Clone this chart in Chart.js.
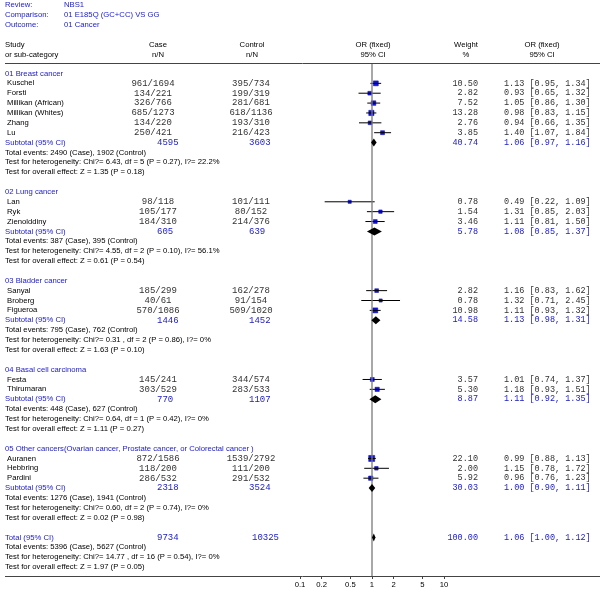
<!DOCTYPE html>
<html>
<head>
<meta charset="utf-8">
<script src="https://cdn.jsdelivr.net/npm/chart.js@4.4.0/dist/chart.umd.min.js"></script>
<style>
  html, body { margin: 0; padding: 0; background: #fff; }
  #wrap { width: 600px; height: 594px; position: relative; }
</style>
</head>
<body>
<div id="wrap"><canvas id="forest" width="600" height="594"></canvas></div>
<script>
// review header
const reviewLabels = ['Review:', 'Comparison:', 'Outcome:'];
const reviewValues = ['NBS1', '01 E185Q (GC+CC) VS GG', '01 Cancer'];

// subgroups
const groupNames = [
    '01 Breast cancer',
    '02 Lung cancer',
    '03 Bladder cancer',
    '04 Basal cell carcinoma',
    '05 Other cancers(Ovarian cancer, Prostate cancer, or Colorectal cancer )'
];

// studies
const studyNames = ['Kuschel', 'Forsti', 'Millikan (African)', 'Millikan (Whites)', 'Zhang', 'Lu',
    'Lan', 'Ryk', 'Zienolddiny',
    'Sanyal', 'Broberg', 'Figueroa',
    'Festa', 'Thirumaran',
    'Auranen', 'Hebbring', 'Pardini'];
const studyGroup = [0, 0, 0, 0, 0, 0, 1, 1, 1, 2, 2, 2, 3, 3, 4, 4, 4];
const caseNN = ['961/1694', '134/221', '326/766', '685/1273', '134/220', '250/421',
    '98/118', '105/177', '184/310',
    '185/299', '40/61', '570/1086',
    '145/241', '303/529',
    '872/1586', '118/200', '286/532'];
const controlNN = ['395/734', '199/319', '281/681', '618/1136', '193/310', '216/423',
    '101/111', '80/152', '214/376',
    '162/278', '91/154', '509/1020',
    '344/574', '283/533',
    '1539/2792', '111/200', '291/532'];
const weights = [10.50, 2.82, 7.52, 13.28, 2.76, 3.85, 0.78, 1.54, 3.46, 2.82, 0.78, 10.98, 3.57, 5.30, 22.10, 2.00, 5.92];
const orEst  = [1.13, 0.93, 1.05, 0.98, 0.94, 1.40, 0.49, 1.31, 1.11, 1.16, 1.32, 1.11, 1.01, 1.18, 0.99, 1.15, 0.96];
const ciLow  = [0.95, 0.65, 0.86, 0.83, 0.66, 1.07, 0.22, 0.85, 0.81, 0.83, 0.71, 0.93, 0.74, 0.93, 0.88, 0.78, 0.76];
const ciHigh = [1.34, 1.32, 1.30, 1.15, 1.35, 1.84, 1.09, 2.03, 1.50, 1.62, 2.45, 1.32, 1.37, 1.51, 1.13, 1.72, 1.23];

// subtotals
const subCase    = [4595, 605, 1446, 770, 2318];
const subControl = [3603, 639, 1452, 1107, 3524];
const subWeight  = [40.74, 5.78, 14.58, 8.87, 30.03];
const subOR      = [1.06, 1.08, 1.13, 1.11, 1.00];
const subLow     = [0.97, 0.85, 0.98, 0.92, 0.90];
const subHigh    = [1.16, 1.37, 1.31, 1.35, 1.11];
const eventsCase    = [2490, 387, 795, 448, 1276];
const eventsControl = [1902, 395, 762, 627, 1941];
const hetText = [
    'Chi?= 6.43, df = 5 (P = 0.27), I?= 22.2%',
    'Chi?= 4.55, df = 2 (P = 0.10), I?= 56.1%',
    'Chi?= 0.31 , df = 2 (P = 0.86), I?= 0%',
    'Chi?= 0.64, df = 1 (P = 0.42), I?= 0%',
    'Chi?= 0.60, df = 2 (P = 0.74), I?= 0%'
];
const effectText = ['Z = 1.35 (P = 0.18)', 'Z = 0.61 (P = 0.54)', 'Z = 1.63 (P = 0.10)', 'Z = 1.11 (P = 0.27)', 'Z = 0.02 (P = 0.98)'];

// overall
const totalCase = 9734, totalControl = 10325, totalWeight = 100.00;
const totalOR = 1.06, totalLow = 1.00, totalHigh = 1.12;
const totalEvents = [5396, 5627];
const totalHet = 'Chi?= 14.77 , df = 16 (P = 0.54), I?= 0%';
const totalEffect = 'Z = 1.97 (P = 0.05)';

const xTicks = [0.1, 0.2, 0.5, 1, 2, 5, 10];

// ---- row layout ----
const BLUE = '#1a1ac8';
const GREY = '#333';
const SANS = '7.7px "Liberation Sans", Arial, sans-serif';
const MONO = '9px "Liberation Mono", "Courier New", monospace';
const MONO_R = '8.5px "Liberation Mono", "Courier New", monospace';
const caseCenter = [153, 158, 158, 158, 158];

const studyRow = [];
const subRow = [];
const notes = [];
let r = 0;
groupNames.forEach((g, gi) => {
    notes.push({ row: r++, text: g, color: BLUE, x: 5 });
    studyNames.forEach((n, i) => {
        if (studyGroup[i] === gi) studyRow[i] = r++;
    });
    subRow[gi] = r++;
    notes.push({ row: r++, text: 'Total events: ' + eventsCase[gi] + ' (Case), ' + eventsControl[gi] + ' (Control)' });
    notes.push({ row: r++, text: 'Test for heterogeneity: ' + hetText[gi] });
    notes.push({ row: r++, text: 'Test for overall effect: ' + effectText[gi] });
    r++;
});
const totalRow = r++;
notes.push({ row: r++, text: 'Total events: ' + totalEvents[0] + ' (Case), ' + totalEvents[1] + ' (Control)' });
notes.push({ row: r++, text: 'Test for heterogeneity: ' + totalHet });
notes.push({ row: r++, text: 'Test for overall effect: ' + totalEffect });
const lastRow = r - 1;

const yMin = -0.96, yMax = lastRow + 0.91;

// CI segments with gaps between them
const ciData = [];
studyNames.forEach((n, i) => {
    ciData.push({ x: ciLow[i], y: studyRow[i] }, { x: ciHigh[i], y: studyRow[i] }, { x: ciHigh[i], y: null });
});
const pointData = studyNames.map((n, i) => ({ x: orEst[i], y: studyRow[i] }));
const pointSize = weights.map(w => (2.5 + 0.75 * Math.sqrt(w)) / Math.SQRT2);

// diamonds for pooled estimates
const diamonds = subOR.map((v, gi) => ({ est: v, lo: subLow[gi], hi: subHigh[gi], row: subRow[gi] }));
diamonds.push({ est: totalOR, lo: totalLow, hi: totalHigh, row: totalRow });

const forestPlugin = {
    id: 'forestText',
    afterDatasetsDraw(chart) {
        const { ctx, scales: { x, y } } = chart;
        ctx.save();
        ctx.fillStyle = '#000';
        diamonds.forEach(d => {
            const yc = y.getPixelForValue(d.row);
            ctx.beginPath();
            ctx.moveTo(x.getPixelForValue(d.lo), yc);
            ctx.lineTo(x.getPixelForValue(d.est), yc - 4);
            ctx.lineTo(x.getPixelForValue(d.hi), yc);
            ctx.lineTo(x.getPixelForValue(d.est), yc + 4);
            ctx.closePath();
            ctx.fill();
        });
        ctx.restore();
    },
    afterDraw(chart) {
        const { ctx, scales: { y }, chartArea } = chart;
        const py = row => y.getPixelForValue(row);
        const txt = (s, xp, yp, font, color, align) => {
            ctx.font = font;
            ctx.fillStyle = color || '#000';
            ctx.textAlign = align || 'left';
            ctx.fillText(s, xp, yp);
        };
        ctx.save();
        ctx.textBaseline = 'middle';

        reviewLabels.forEach((l, i) => {
            txt(l, 5, 5 + i * 10, SANS, BLUE);
            txt(reviewValues[i], 64, 5 + i * 10, SANS, BLUE);
        });

        // column headers
        txt('Study', 5, 45, SANS);
        txt('or sub-category', 5, 55, SANS);
        txt('Case', 158, 45, SANS, '#000', 'center');
        txt('n/N', 158, 55, SANS, '#000', 'center');
        txt('Control', 252, 45, SANS, '#000', 'center');
        txt('n/N', 252, 55, SANS, '#000', 'center');
        txt('OR (fixed)', 373, 45, SANS, '#000', 'center');
        txt('95% CI', 373, 55, SANS, '#000', 'center');
        txt('Weight', 466, 45, SANS, '#000', 'center');
        txt('%', 466, 55, SANS, '#000', 'center');
        txt('OR (fixed)', 542, 45, SANS, '#000', 'center');
        txt('95% CI', 542, 55, SANS, '#000', 'center');

        // rules
        ctx.strokeStyle = '#444';
        ctx.lineWidth = 1;
        ctx.beginPath();
        ctx.moveTo(5, 63.5); ctx.lineTo(600, 63.5);
        ctx.moveTo(5, chartArea.bottom + 0.5); ctx.lineTo(600, chartArea.bottom + 0.5);
        ctx.stroke();

        notes.forEach(n => txt(n.text, n.x || 5, py(n.row), SANS, n.color || '#000'));

        const orStr = (v, lo, hi) => v.toFixed(2) + ' [' + lo.toFixed(2) + ', ' + hi.toFixed(2) + ']';

        studyNames.forEach((n, i) => {
            const yp = py(studyRow[i]);
            txt(n, 7, yp, SANS);
            txt(caseNN[i], caseCenter[studyGroup[i]], yp, MONO, GREY, 'center');
            txt(controlNN[i], 251, yp, MONO, GREY, 'center');
            txt(weights[i].toFixed(2), 478, yp, MONO_R, GREY, 'right');
            txt(orStr(orEst[i], ciLow[i], ciHigh[i]), 504, yp, MONO_R, GREY);
        });

        groupNames.forEach((g, gi) => {
            const yp = py(subRow[gi]);
            txt('Subtotal (95% CI)', 5, yp, SANS, BLUE);
            txt(String(subCase[gi]), 157, yp, MONO, BLUE);
            txt(String(subControl[gi]), 249, yp, MONO, BLUE);
            txt(subWeight[gi].toFixed(2), 478, yp, MONO_R, BLUE, 'right');
            txt(orStr(subOR[gi], subLow[gi], subHigh[gi]), 504, yp, MONO_R, BLUE);
        });

        const yt = py(totalRow);
        txt('Total (95% CI)', 5, yt, SANS, BLUE);
        txt(String(totalCase), 157, yt, MONO, BLUE);
        txt(String(totalControl), 252, yt, MONO, BLUE);
        txt(totalWeight.toFixed(2), 478, yt, MONO_R, BLUE, 'right');
        txt(orStr(totalOR, totalLow, totalHigh), 504, yt, MONO_R, BLUE);

        ctx.restore();
    }
};

new Chart(document.getElementById('forest'), {
    type: 'scatter',
    data: {
        datasets: [
            {
                type: 'line',
                data: [{ x: 1, y: yMin }, { x: 1, y: yMax }],
                borderColor: '#7a7a7a',
                borderWidth: 1.3,
                pointRadius: 0
            },
            {
                type: 'line',
                data: ciData,
                borderColor: '#000',
                borderWidth: 1,
                pointRadius: 0,
                spanGaps: false
            },
            {
                data: pointData,
                pointStyle: 'rect',
                pointRadius: pointSize,
                backgroundColor: '#1414e0',
                borderColor: '#0000a0',
                borderWidth: 0.5
            }
        ]
    },
    options: {
        responsive: false,
        animation: false,
        events: [],
        layout: { padding: { left: 300, right: 156, top: 64, bottom: 0 } },
        plugins: { legend: { display: false }, tooltip: { enabled: false } },
        scales: {
            x: {
                type: 'logarithmic',
                min: 0.1,
                max: 10,
                afterBuildTicks: scale => { scale.ticks = xTicks.map(v => ({ value: v })); },
                afterFit: scale => { scale.height = 18; },
                border: { display: false },
                grid: { drawOnChartArea: false, drawTicks: true, tickLength: 3, color: '#444' },
                ticks: {
                    autoSkip: false,
                    maxRotation: 0,
                    padding: 1,
                    color: '#000',
                    font: { family: '"Liberation Sans", Arial, sans-serif', size: 7.7 },
                    callback: v => String(v)
                }
            },
            y: {
                type: 'linear',
                display: false,
                reverse: true,
                min: yMin,
                max: yMax
            }
        }
    },
    plugins: [forestPlugin]
});
</script>
</body>
</html>
